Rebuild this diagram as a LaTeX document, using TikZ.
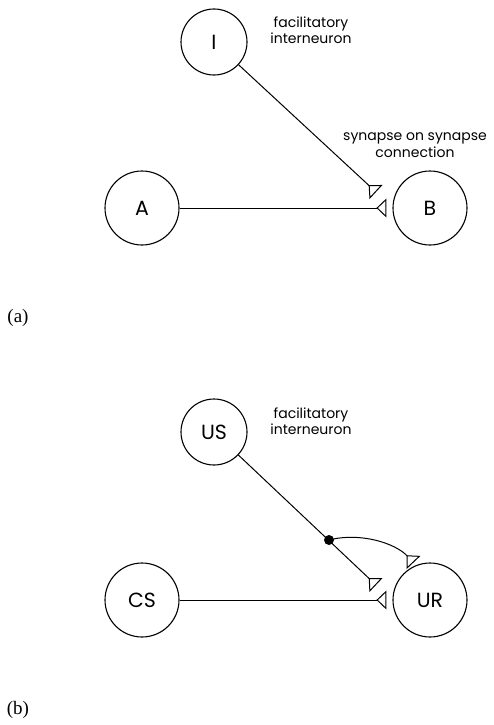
\documentclass[tikz,border=0pt]{standalone}
\usepackage{fontspec}
\setmainfont{Poppins}
\newfontfamily\panelfont{Liberation Serif}
\usetikzlibrary{arrows.meta}
\begin{document}
\begin{tikzpicture}[x=1pt,y=-1pt,
 neuron/.style={circle,draw,line width=1.1pt,inner sep=0pt,font=\fontsize{20.5}{24}\selectfont},
 bigc/.style={minimum size=74pt},
 smallc/.style={minimum size=66pt},
 conn/.style={line width=1pt,-{Triangle[open,reversed,length=10pt,width=19pt,line width=1pt]}},
 note/.style={align=center,font=\fontsize{14}{16.5}\selectfont},
 panel/.style={font=\panelfont\fontsize{19}{22}\selectfont}]
\useasboundingbox (0,0) rectangle (493,725);
% panel (a)
\node[neuron,smallc] (I) at (214,42) {I};
\node[neuron,bigc] (A) at (142,208) {A};
\node[neuron,bigc] (B) at (430,208) {B};
\node[note] (n1) at (311,30) {facilitatory\\interneuron};
\node[note] (n2) at (415,145) {synapse on synapse\\connection};
\coordinate (s1) at (376,192);
\draw[conn] (I) -- (s1);
\draw[conn,shorten >=6pt] (A) -- (B);
\node[panel] (pa) at (18,318) {(a)};
% panel (b)
\node[neuron,smallc] (US) at (214,432) {US};
\node[neuron,bigc] (CS) at (142,600) {CS};
\node[neuron,bigc] (UR) at (430,600) {UR};
\node[note] (n3) at (311,421) {facilitatory\\interneuron};
\coordinate (s2) at (376,585);
\coordinate (s3) at (413.5,562.5);
\draw[conn] (US) -- (s2);
\draw[conn,shorten >=6pt] (CS) -- (UR);
\node[circle,fill,inner sep=0pt,minimum size=10pt] (dot) at (329,540) {};
\draw[conn] (dot.center) .. controls (360,532) and (395,543) .. (s3);
\node[panel] (pb) at (18,710) {(b)};
\end{tikzpicture}
\end{document}
